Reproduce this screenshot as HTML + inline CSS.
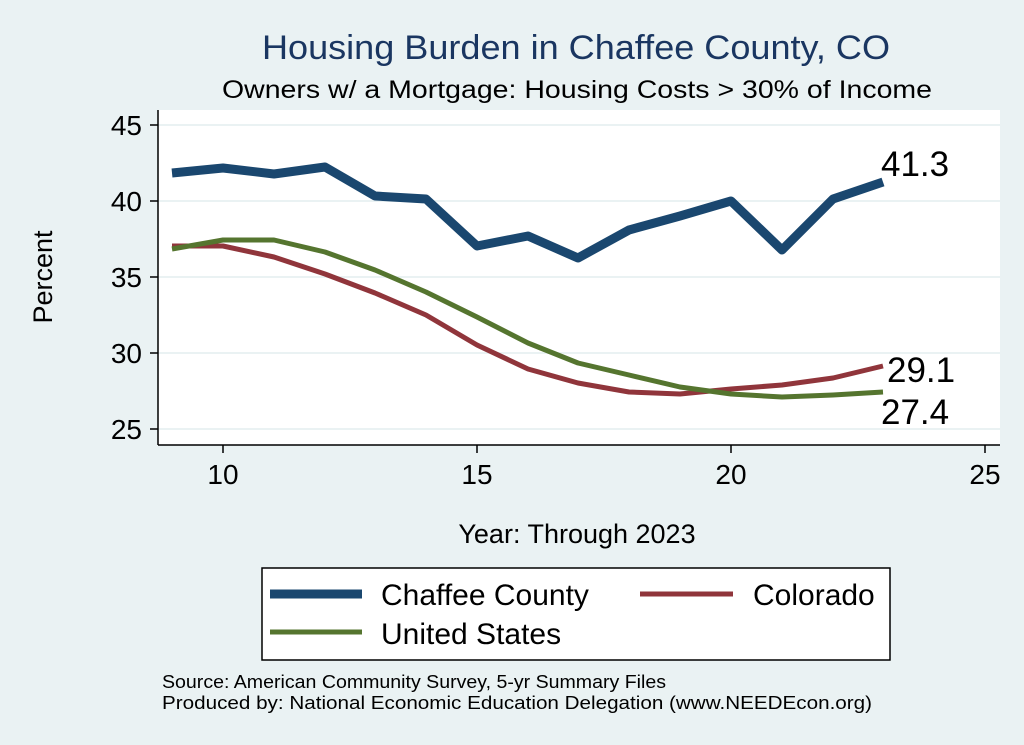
<!DOCTYPE html>
<html><head><meta charset="utf-8"><style>
body{margin:0;background:#eaf2f3;}
svg{display:block;font-family:"Liberation Sans",Arial,sans-serif;}
</style></head><body>
<svg width="1024" height="745" viewBox="0 0 1024 745">
<rect width="1024" height="745" fill="#eaf2f3"/>
<rect x="158" y="110" width="842" height="335" fill="#fff"/>
<text x="262" y="59" font-size="34" fill="#1a3661" textLength="628" lengthAdjust="spacingAndGlyphs">Housing Burden in Chaffee County, CO</text>
<text x="222" y="98" font-size="25" textLength="710" lengthAdjust="spacingAndGlyphs">Owners w/ a Mortgage: Housing Costs &gt; 30% of Income</text>
<g stroke="#eaf2f3" stroke-width="2">
<line x1="158" y1="125" x2="1000" y2="125"/><line x1="158" y1="201" x2="1000" y2="201"/>
<line x1="158" y1="277" x2="1000" y2="277"/><line x1="158" y1="353" x2="1000" y2="353"/>
<line x1="158" y1="429" x2="1000" y2="429"/></g>
<g stroke="#000" stroke-width="1.5">
<line x1="158" y1="110" x2="158" y2="445"/><line x1="158" y1="445" x2="1000" y2="445"/>
<line x1="150" y1="125" x2="158" y2="125"/><line x1="150" y1="201" x2="158" y2="201"/>
<line x1="150" y1="277" x2="158" y2="277"/><line x1="150" y1="353" x2="158" y2="353"/>
<line x1="150" y1="429" x2="158" y2="429"/>
<line x1="223" y1="445" x2="223" y2="453"/><line x1="477" y1="445" x2="477" y2="453"/>
<line x1="731" y1="445" x2="731" y2="453"/><line x1="985" y1="445" x2="985" y2="453"/></g>
<g font-size="28" text-anchor="end"><text x="142" y="135">45</text><text x="142" y="211">40</text><text x="142" y="287">35</text><text x="142" y="363">30</text><text x="142" y="439">25</text></g>
<g font-size="28" text-anchor="middle"><text x="223" y="484">10</text><text x="477" y="484">15</text><text x="731" y="484">20</text><text x="985" y="484">25</text></g>
<text x="52" y="277" font-size="27" text-anchor="middle" transform="rotate(-90 52 277)">Percent</text>
<text x="577" y="543" font-size="27" text-anchor="middle">Year: Through 2023</text>
<g fill="none" stroke-linejoin="round">
<polyline stroke="#1a476f" stroke-width="9" points="172,173 223,168 274,174 325,167 375,196 426,199 477,246 528,236 578,258 629,230 680,216 731,201 782,250 833,199 883,182"/>
<polyline stroke="#90353b" stroke-width="5" points="172,246 223,246 274,257 325,274 375,293 426,315 477,345 528,369 578,383 629,392 680,394 731,389 782,385 833,378 883,366"/>
<polyline stroke="#55752f" stroke-width="5" points="172,249 223,240 274,240 325,252 375,270 426,292 477,317 528,343 578,363 629,375 680,387 731,394 782,397 833,395 883,392"/>
</g>
<g font-size="35"><text x="881" y="176">41.3</text><text x="887" y="382">29.1</text><text x="881" y="424">27.4</text></g>
<rect x="262" y="568" width="628" height="92" fill="#fff" stroke="#000" stroke-width="1.5"/>
<line x1="270" y1="594" x2="362" y2="594" stroke="#1a476f" stroke-width="9"/>
<text x="381" y="605" font-size="30">Chaffee County</text>
<line x1="640" y1="594" x2="733" y2="594" stroke="#90353b" stroke-width="5"/>
<text x="753" y="605" font-size="30">Colorado</text>
<line x1="270" y1="632" x2="362" y2="632" stroke="#55752f" stroke-width="5"/>
<text x="381" y="644" font-size="30">United States</text>
<text x="162" y="688" font-size="18" textLength="504" lengthAdjust="spacingAndGlyphs">Source: American Community Survey, 5-yr Summary Files</text>
<text x="162" y="709" font-size="18" textLength="710" lengthAdjust="spacingAndGlyphs">Produced by: National Economic Education Delegation (www.NEEDEcon.org)</text>
</svg>
</body></html>
